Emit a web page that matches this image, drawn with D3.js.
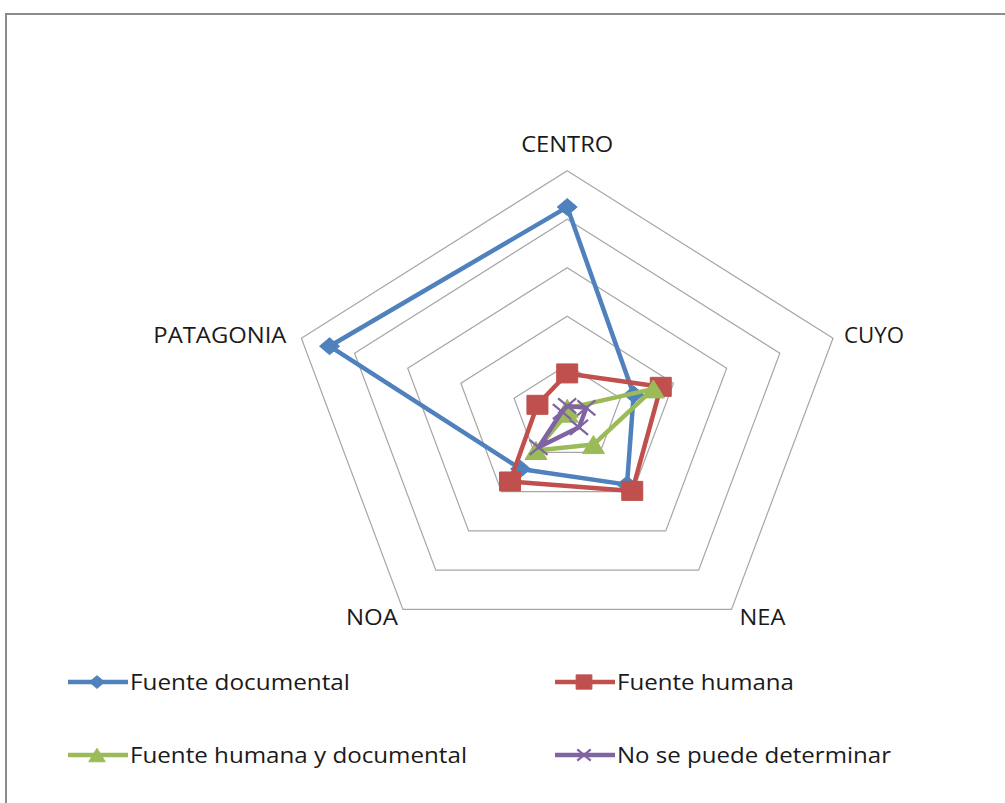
<!DOCTYPE html>
<html>
<head>
<meta charset="utf-8">
<script src="https://cdn.jsdelivr.net/npm/d3@7"></script>
<style>
  html, body { margin: 0; padding: 0; background: #fff; }
  svg { display: block; }
  text { font-family: "Open Sans", "DejaVu Sans", sans-serif; fill: #1a1a1a; }
</style>
</head>
<body>
<svg id="chart" width="1005" height="803"></svg>
<script>
// ---- Data ----
const categories = ["CENTRO", "CUYO", "NEA", "NOA", "PATAGONIA"];
const seriesNames = ["Fuente documental", "Fuente humana", "Fuente humana y documental", "No se puede determinar"];
const fuenteDocumental = [42.5, 12.5, 18.2, 14.2, 44.7];
const fuenteHumana = [8.2, 17.6, 19.8, 17.4, 5.6];
const fuenteHumanaYDocumental = [1.0, 16.2, 8.0, 9.5, 0.0];
const noSePuedeDeterminar = [1.5, 3.6, 3.6, 8.7, 1.0];
const radialTicks = [10, 20, 30, 40, 50];

const seriesValues = [fuenteDocumental, fuenteHumana, fuenteHumanaYDocumental, noSePuedeDeterminar];
const colors = ["#4F81BD", "#C0504D", "#9BBB59", "#8064A2"];
const markers = ["diamond", "square", "triangle", "x"];

// ---- Layout ----
const svg = d3.select("#chart");
const cx = 567.2, cy = 413.2;
const maxV = d3.max(radialTicks);
const rX = d3.scaleLinear().domain([0, maxV]).range([0, 279.5]);
const rY = d3.scaleLinear().domain([0, maxV]).range([0, 242.5]);
const angle = d3.scalePoint().domain(d3.range(categories.length + 1)).range([0, 2 * Math.PI]);

function pt(i, v) {
  const a = angle(i % categories.length);
  return [cx + rX(v) * Math.sin(a), cy - rY(v) * Math.cos(a)];
}

// frame
svg.append("rect")
  .attr("x", 6).attr("y", 14).attr("width", 1040).attr("height", 840)
  .attr("fill", "none").attr("stroke", "#8c8c8c").attr("stroke-width", 2);

// grid rings
const ring = d3.line();
svg.append("g").selectAll("path")
  .data(radialTicks)
  .join("path")
  .attr("d", t => ring(categories.map((c, i) => pt(i, t))) + "Z")
  .attr("fill", "none")
  .attr("stroke", "#a6a6a6")
  .attr("stroke-width", 1.2);

// category labels
const labelCfg = [
  { dx: 0, dy: -19, anchor: "middle", w: 92 },
  { dx: 11, dy: 5, anchor: "start", w: 60 },
  { dx: 8, dy: 16, anchor: "start", w: 46 },
  { dx: -5, dy: 16, anchor: "end", w: 52 },
  { dx: -15, dy: 5, anchor: "end", w: 133 }
];
svg.append("g").selectAll("text")
  .data(categories)
  .join("text")
  .attr("x", (c, i) => pt(i, maxV)[0] + labelCfg[i].dx)
  .attr("y", (c, i) => pt(i, maxV)[1] + labelCfg[i].dy)
  .attr("text-anchor", (c, i) => labelCfg[i].anchor)
  .attr("font-size", 21)
  .attr("textLength", (c, i) => labelCfg[i].w)
  .attr("lengthAdjust", "spacingAndGlyphs")
  .text(c => c);

// marker drawing
function markerPath(type, s) {
  if (type === "diamond") {
    const w = 10 * s, h = 8.5 * s;
    return `M0,${-h}L${w},0L0,${h}L${-w},0Z`;
  }
  if (type === "square") {
    const w = 10.5 * s, h = 9.5 * s;
    return `M${-w},${-h}H${w}V${h}H${-w}Z`;
  }
  if (type === "triangle") {
    const w = 11 * s, h = 9 * s;
    return `M0,${-h}L${w},${h}L${-w},${h}Z`;
  }
  const w = 9 * s, h = 7.5 * s;
  return `M${-w},${-h}L${w},${h}M${w},${-h}L${-w},${h}`;
}

function drawMarker(g, type, color, x, y, s) {
  const p = g.append("path")
    .attr("transform", `translate(${x},${y})`)
    .attr("d", markerPath(type, s));
  if (type === "x") {
    p.attr("fill", "none").attr("stroke", color).attr("stroke-width", 2.2);
  } else {
    p.attr("fill", color).attr("stroke", color).attr("stroke-width", 1).attr("stroke-linejoin", "round");
  }
}

// series
const lineGen = d3.line();
seriesValues.forEach((vals, si) => {
  const g = svg.append("g");
  const pts = vals.map((v, i) => pt(i, v));
  g.append("path")
    .attr("d", lineGen(pts) + "Z")
    .attr("fill", "none")
    .attr("stroke", colors[si])
    .attr("stroke-width", 4.5)
    .attr("stroke-linejoin", "round");
  pts.forEach(p => drawMarker(g, markers[si], colors[si], p[0], p[1], 1));
});

// legend
const legendPos = [
  { x: 68, y: 682, w: 220 },
  { x: 555, y: 682, w: 177 },
  { x: 68, y: 755, w: 337 },
  { x: 555, y: 755, w: 274 }
];
seriesNames.forEach((name, si) => {
  const lp = legendPos[si];
  const g = svg.append("g");
  g.append("line")
    .attr("x1", lp.x).attr("x2", lp.x + 60)
    .attr("y1", lp.y).attr("y2", lp.y)
    .attr("stroke", colors[si]).attr("stroke-width", 4.5);
  drawMarker(g, markers[si], colors[si], lp.x + 29, lp.y, 0.75);
  g.append("text")
    .attr("x", lp.x + 62)
    .attr("y", lp.y + 8)
    .attr("font-size", 21)
    .attr("textLength", lp.w)
    .attr("lengthAdjust", "spacingAndGlyphs")
    .text(name);
});
</script>
</body>
</html>
